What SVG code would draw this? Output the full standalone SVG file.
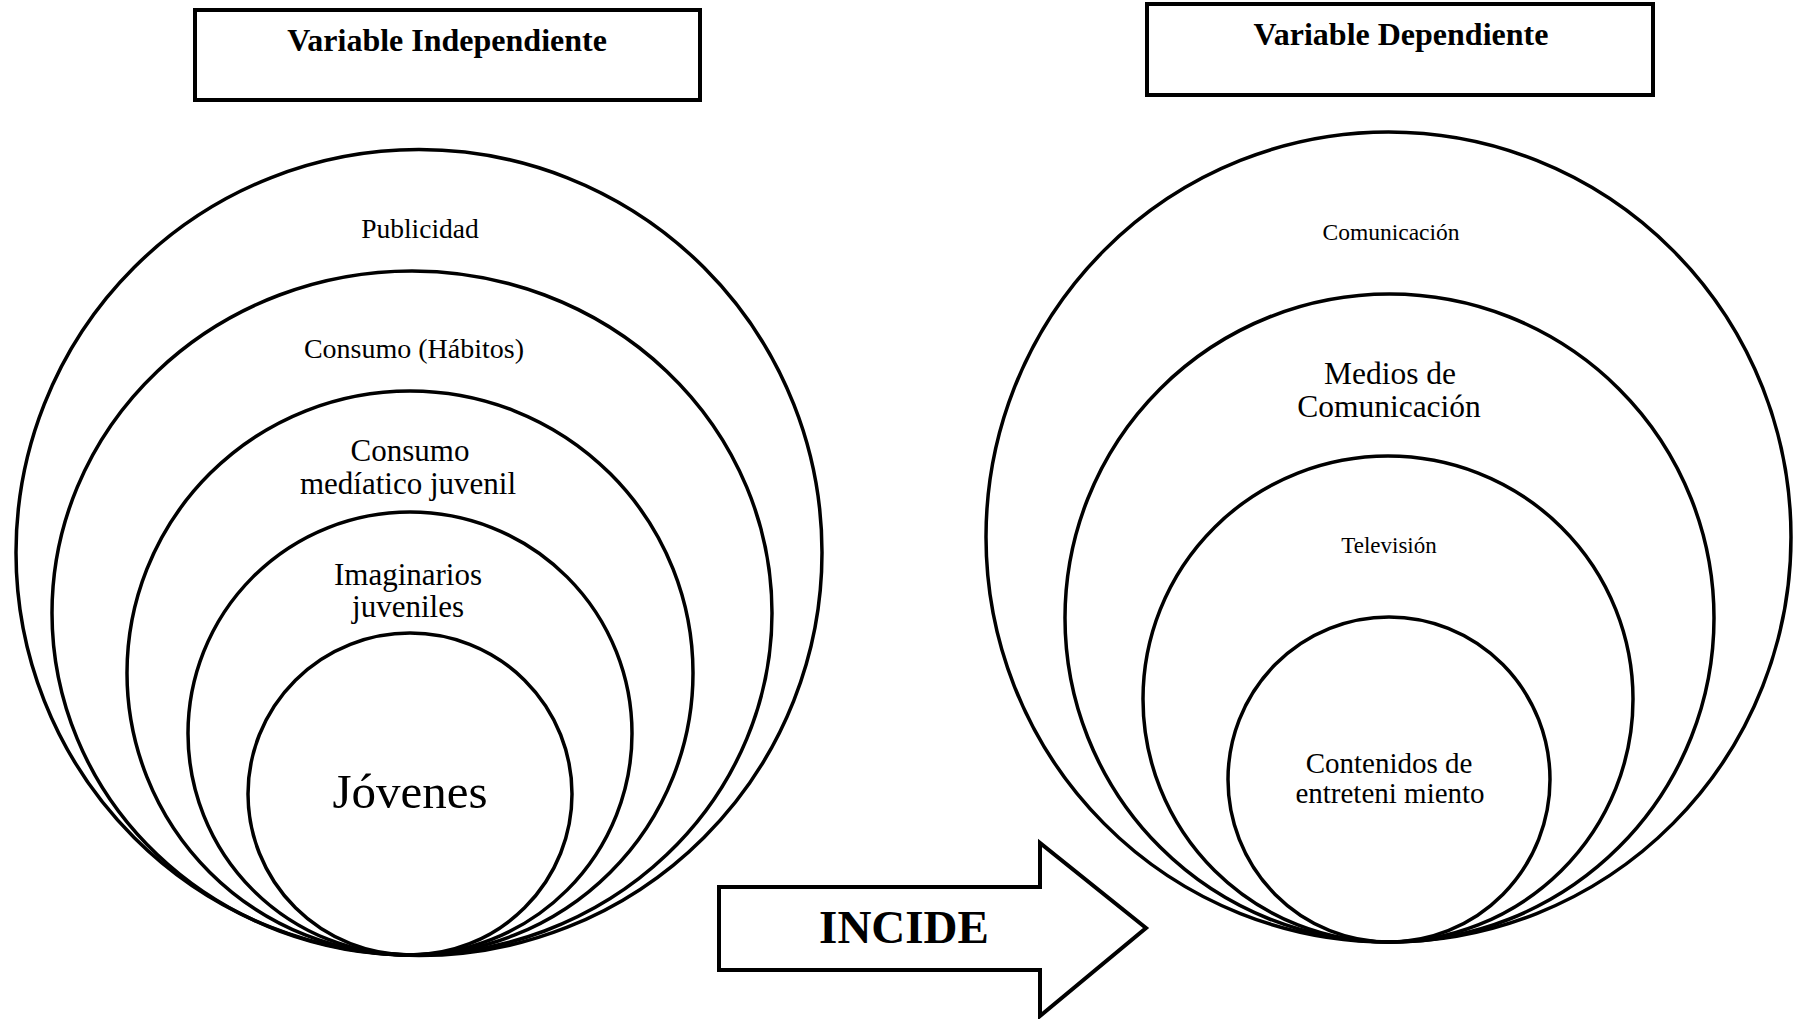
<svg xmlns="http://www.w3.org/2000/svg" width="1800" height="1019" viewBox="0 0 1800 1019">
<style>
.s{fill:none;stroke:#000;stroke-width:3.5}
.b{fill:#fff;stroke:#000;stroke-width:4}
.t{font-family:"Liberation Serif","Times New Roman",serif;fill:#000;text-anchor:middle}
.h{font-weight:bold;font-size:32px}
</style>
<rect width="1800" height="1019" fill="#fff"/>
<g id="title-independiente">
<rect class="b" x="195" y="10" width="505" height="90"/>
<text class="t h" x="447" y="51">Variable Independiente</text>
</g>
<g id="title-dependiente">
<rect class="b" x="1147" y="4" width="506" height="91"/>
<text class="t h" x="1401" y="45">Variable Dependiente</text>
</g>
<g id="publicidad">
<circle class="s" cx="419" cy="552.5" r="403"/>
<text class="t" font-size="27.5" x="420" y="238">Publicidad</text>
</g>
<g id="consumo-habitos">
<ellipse class="s" cx="412" cy="613" rx="360" ry="342"/>
<text class="t" font-size="28" x="414" y="358">Consumo (Hábitos)</text>
</g>
<g id="consumo-mediatico">
<ellipse class="s" cx="410" cy="673" rx="283" ry="282"/>
<text class="t" font-size="31" x="410" y="461">Consumo</text>
<text class="t" font-size="31" x="408" y="494">medíatico juvenil</text>
</g>
<g id="imaginarios">
<ellipse class="s" cx="410" cy="733.5" rx="222" ry="221.5"/>
<text class="t" font-size="31" x="408" y="585">Imaginarios</text>
<text class="t" font-size="31" x="408" y="617">juveniles</text>
</g>
<g id="jovenes">
<ellipse class="s" cx="410" cy="794" rx="162" ry="161"/>
<text class="t" font-size="49" x="410" y="808">Jóvenes</text>
</g>
<g id="comunicacion">
<ellipse class="s" cx="1388.5" cy="537" rx="402.5" ry="405"/>
<text class="t" font-size="23.5" x="1391" y="240">Comunicación</text>
</g>
<g id="medios">
<ellipse class="s" cx="1389.5" cy="618" rx="324.5" ry="324"/>
<text class="t" font-size="31.5" x="1390" y="384">Medios de</text>
<text class="t" font-size="31.5" x="1389" y="417">Comunicación</text>
</g>
<g id="television">
<ellipse class="s" cx="1388" cy="699" rx="245" ry="243"/>
<text class="t" font-size="23" x="1389" y="553">Televisión</text>
</g>
<g id="contenidos">
<ellipse class="s" cx="1389" cy="779.5" rx="161" ry="162.5"/>
<text class="t" font-size="29" x="1389" y="773">Contenidos de</text>
<text class="t" font-size="29" x="1390" y="803">entreteni miento</text>
</g>
<g id="connectors">
<g id="incide-arrow">
<polygon class="b" points="719,887 1040,887 1040,843 1146,928 1040,1016 1040,970 719,970"/>
<text class="t" font-weight="bold" font-size="47" x="904" y="943">INCIDE</text>
</g>
</g>
</svg>
